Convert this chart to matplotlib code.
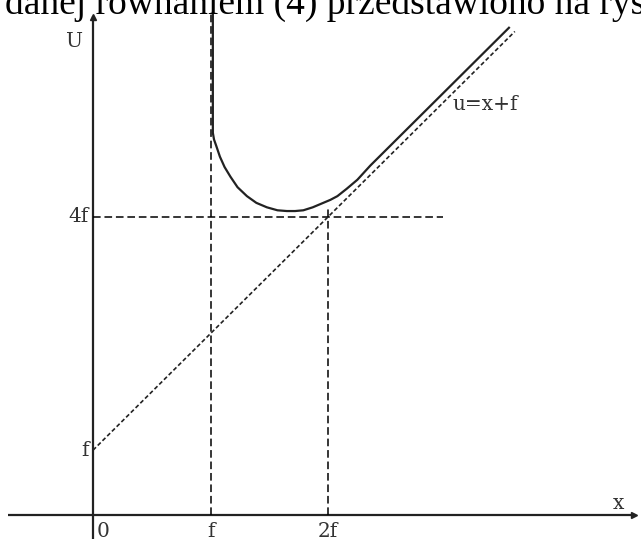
import matplotlib
matplotlib.use("Agg")
import matplotlib.pyplot as plt

# axis ticks (x in units of f)
x_ticks = [0, 1, 2]
x_labels = ["0", "f", "2f"]
y_ticks = [0.87, 4.0]
y_labels = ["f", "4f"]

# u(x) curve: vertical branch near x=f, minimum near 2f, then along the asymptote
curve_x = [1.02, 1.02, 1.03, 1.05, 1.08, 1.12, 1.17, 1.23, 1.31, 1.39, 1.48, 1.57,
           1.65, 1.72, 1.79, 1.87, 1.96, 2.02, 2.08, 2.16, 2.25, 2.36, 3.54]
curve_y = [6.74, 5.13, 5.04, 4.95, 4.81, 4.67, 4.54, 4.40, 4.28, 4.19, 4.13, 4.09,
           4.08, 4.08, 4.09, 4.13, 4.19, 4.23, 4.28, 4.38, 4.50, 4.69, 6.54]

# asymptote u = x + f (end points)
asym_x = [0.0, 3.59]
asym_y = [0.87, 6.49]

fig = plt.figure(figsize=(6.41, 5.39), dpi=100)
ax = fig.add_axes([0, 0, 1, 1])
ax.set_xlim(-93 / 117.5, 548 / 117.5)
ax.set_ylim(-24 / 74.5, 515 / 74.5)
ax.axis("off")

axis_col = "#222222"
# coordinate axes
ax.plot([-0.72, 4.60], [0, 0], color=axis_col, lw=1.6, solid_capstyle="butt")
ax.plot([0, 0], [-0.40, 6.70], color=axis_col, lw=1.6, solid_capstyle="butt")
ax.plot([4.60], [0], marker=">", ms=4, color=axis_col)
ax.plot([0], [6.68], marker="^", ms=4, color=axis_col)

# guide lines
dash = (0, (5, 2.5))
ax.plot([1, 1], [0, 6.74], color="black", lw=1.1, linestyle=dash)
ax.plot([2, 2], [0, 4.13], color="black", lw=1.1, linestyle=dash)
ax.plot([0, 2.98], [4, 4], color="black", lw=1.1, linestyle=dash)
ax.plot(asym_x, asym_y, color="#222222", lw=1.2, linestyle=(0, (2.5, 1.5)))

# the curve
ax.plot(curve_x, curve_y, color="#222222", lw=1.6, solid_joinstyle="round")

lab = dict(family="DejaVu Serif", fontsize=14.5, color="#333333")
for xv, s in zip(x_ticks, x_labels):
    ha = "left" if xv == 0 else "center"
    xx = 0.03 if xv == 0 else xv
    ax.text(xx, -0.10, s, ha=ha, va="top", **lab)
for yv, s in zip(y_ticks, y_labels):
    ax.text(-0.04, yv, s, ha="right", va="center", **lab)
ax.text(-0.16, 6.35, "U", ha="center", va="center", **lab)
ax.text(4.47, 0.03, "x", ha="center", va="bottom", **lab)
ax.text(3.06, 5.51, "u=x+f", ha="left", va="center", **lab)

# line of running text above the figure
fig.text(5 / 641, 1 - 14 / 539, "danej równaniem (4) przedstawiono na rysunku",
         ha="left", va="baseline", family="Liberation Serif", fontsize=27)

fig.savefig("out.png", dpi=100)
